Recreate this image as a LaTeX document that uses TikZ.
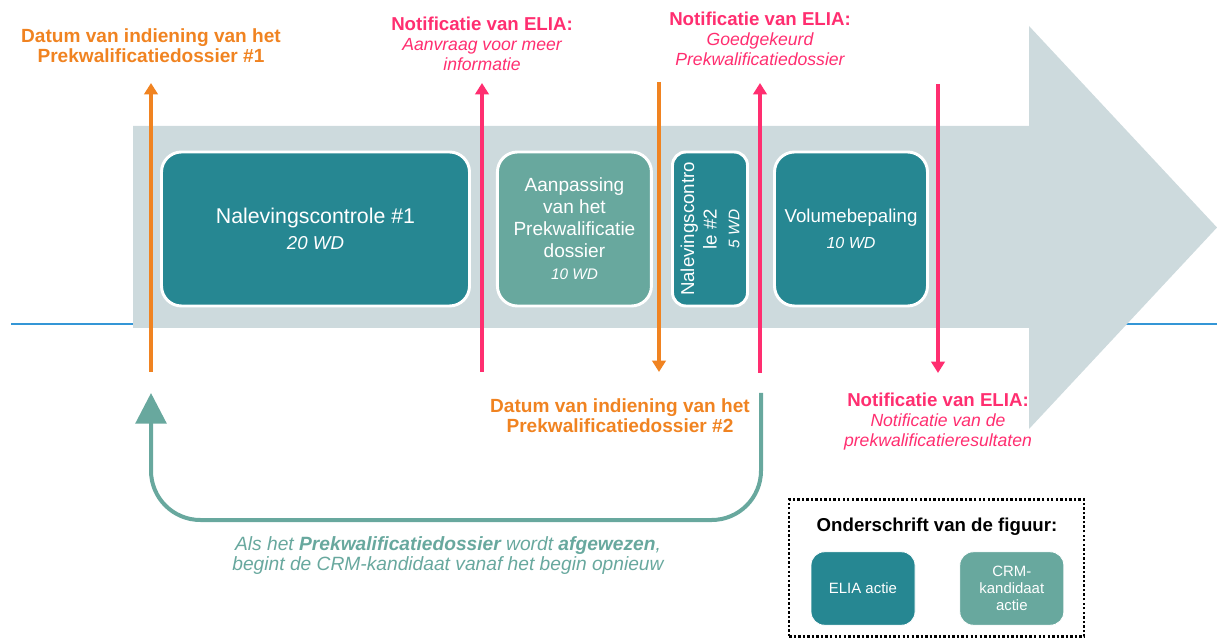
\documentclass[tikz,border=0pt]{standalone}
\usepackage{fontspec}
\setmainfont{Liberation Sans}
\usetikzlibrary{arrows.meta,positioning}
\definecolor{eliablue}{RGB}{38,135,146}
\definecolor{crmgreen}{RGB}{104,168,158}
\definecolor{bandgrey}{RGB}{205,218,221}
\definecolor{datumorange}{RGB}{240,131,33}
\definecolor{notifpink}{RGB}{255,46,112}
\definecolor{axisblue}{RGB}{52,150,214}
\tikzset{every node/.style={align=center,text=white},
  box/.style={draw=white,line width=2.2pt,rounded corners=15pt,minimum width=115.5pt,minimum height=115.5pt,inner sep=2pt},
  elia/.style={box,fill=eliablue},
  crm/.style={box,fill=crmgreen},
  legbox/.style={draw=white,line width=0.6pt,rounded corners=10pt,minimum width=78pt,minimum height=55pt,inner sep=1pt,font=\fontsize{11.2}{13}\selectfont},
  tick/.style={line width=2.5pt,-{Triangle[width=10pt,length=8.5pt]}},
  loopback/.style={crmgreen,line width=3pt,rounded corners=37pt,-{Triangle[width=23pt,length=23pt]}},
  datum/.style={text=datumorange,inner sep=0pt,font=\fontsize{14.3}{15}\selectfont\bfseries},
  notif/.style={text=notifpink,inner sep=0pt,font=\fontsize{13.2}{15}\selectfont\itshape}}
\newcommand{\elia}{\bfseries\upshape\fontsize{14}{15}\selectfont Notificatie van ELIA:}

\begin{document}
\begin{tikzpicture}[x=0.75pt,y=-0.75pt]
    \useasboundingbox (0,0) rectangle (1217,641);
    \draw[axisblue,line width=1.5pt] (11,324) -- (1217,324);
    \fill[bandgrey] (133,126) -- (1029,126) -- (1029,26) -- (1217,227.5) -- (1029,429) -- (1029,328) -- (133,328) -- cycle;

    \node[elia,minimum width=231pt,font=\fontsize{16}{19.5}\selectfont] (nc1) at (315.5,229) {Nalevingscontrole \#1\\{\itshape\fontsize{14}{19.5}\selectfont 20 WD}};
    \node[crm,right=18.75pt of nc1,font=\fontsize{14.3}{16.5}\selectfont] (aanp) {Aanpassing\\van het\\Prekwalificatie\\dossier\\{\itshape\fontsize{11.5}{16.5}\selectfont 10 WD}};
    \node[elia,rotate=90,minimum height=56.25pt,rounded corners=10pt,font=\fontsize{14}{17}\selectfont] (nc2) at (710,229) {Nalevingscontro\\le \#2\\{\itshape\fontsize{11.5}{16}\selectfont 5 WD}};
    \node[elia,minimum width=114.75pt,font=\fontsize{14}{19.5}\selectfont] (vol) at (851,229) {Volumebepaling\\{\itshape\fontsize{12}{19.5}\selectfont 10 WD}};

    \coordinate (d1b) at (151,372);
    \coordinate (d1t) at (151,83);
    \coordinate (n1b) at (482,372);
    \coordinate (n1t) at (482,83);
    \coordinate (d2t) at (659,82);
    \coordinate (d2b) at (659,372);
    \coordinate (n2b) at (760,373);
    \coordinate (n2t) at (760,83);
    \coordinate (n3t) at (938,84);
    \coordinate (n3b) at (938,373);
    \draw[tick,datumorange] (d1b) -- (d1t);
    \draw[tick,notifpink] (n1b) -- (n1t);
    \draw[tick,datumorange] (d2t) -- (d2b);
    \draw[tick,notifpink] (n2b) -- (n2t);
    \draw[tick,notifpink] (n3t) -- (n3b);

    \node[datum,above=15pt of d1t] (d1) {Datum van indiening van het\\Prekwalificatiedossier \#1};
    \node[notif,above=9pt of n1t] (n1) {{\elia}\\Aanvraag voor meer\\informatie};
    \node[notif,above=13pt of n2t] (n2) {{\elia}\\Goedgekeurd\\Prekwalificatiedossier};
    \node[notif,below=15pt of n3b] (n3) {{\elia}\\Notificatie van de\\prekwalificatieresultaten};
    \node[datum] (d2) at (620,416) {Datum van indiening van het\\Prekwalificatiedossier \#2};

    \coordinate (fb1) at (761,393);
    \coordinate (fb2) at (151,393);
    \draw[loopback] (fb1) -- ++(0,127) -| (fb2);
    \node[text=crmgreen,font=\fontsize{14.4}{15}\selectfont\itshape] (cap) at (448,556) {Als het \textbf{Prekwalificatiedossier} wordt \textbf{afgewezen},\\begint de CRM-kandidaat vanaf het begin opnieuw};

    \node[draw=black,line width=1.8pt,dash pattern=on 1.8pt off 1.6pt,minimum width=221pt,minimum height=103pt] (leg) at (936.5,568) {};
    \node[text=black,font=\fontsize{14}{16}\selectfont\bfseries] (legt) at (937,527) {Onderschrift van de figuur:};
    \node[legbox,fill=eliablue] (lg1) at (863,588.5) {ELIA actie};
    \node[legbox,fill=crmgreen,right=33pt of lg1] (lg2) {CRM-\\kandidaat\\actie};
\end{tikzpicture}
\end{document}
